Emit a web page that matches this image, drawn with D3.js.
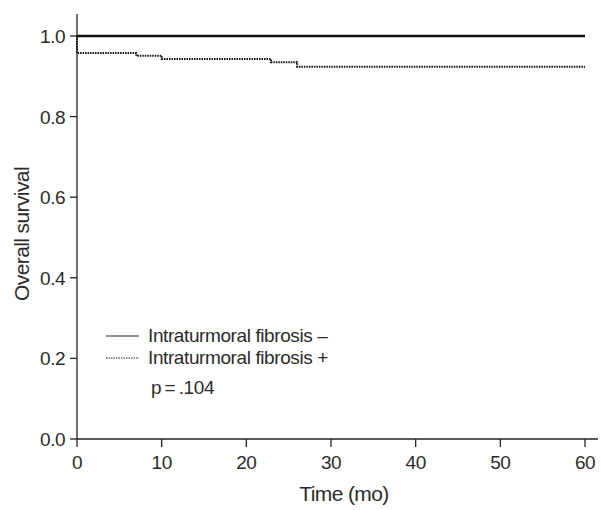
<!DOCTYPE html>
<html lang="en">
<head>
  <meta charset="UTF-8">
  <title>Overall survival</title>
  <script src="https://d3js.org/d3.v7.min.js"></script>
  <style>
    body { margin: 0; background: #fff; font-family: "Liberation Sans", Arial, sans-serif; }
    svg text { fill: #2b2b2b; }
  </style>
</head>
<body>
  <svg width="601" height="510"></svg>
  <script>
    // survival steps: [time, survival]
    const negSteps = [[0, 1.0], [60, 1.0]];
    const posSteps = [[0, 1.0], [0, 0.958], [7, 0.951], [10, 0.943], [22.9, 0.935], [26, 0.924], [60, 0.924]];
    const xTicks = [0, 10, 20, 30, 40, 50, 60];
    const yTicks = [0, 0.2, 0.4, 0.6, 0.8, 1.0];
    const legendLabels = ["Intraturmoral fibrosis \u2013", "Intraturmoral fibrosis +"];
    const pLabel = "p\u2009=\u2009.104";

    const svg = d3.select("svg");
    const x = d3.scaleLinear().domain([0, 60]).range([77, 585]);
    const y = d3.scaleLinear().domain([0, 1]).range([439, 36]);

    // axes
    svg.append("line").attr("x1", 77).attr("x2", 77).attr("y1", 14).attr("y2", 439)
      .attr("stroke", "#222").attr("stroke-width", 1.3);
    svg.append("line").attr("x1", 77).attr("x2", 598).attr("y1", 439).attr("y2", 439)
      .attr("stroke", "#222").attr("stroke-width", 1.3);

    svg.selectAll(".xt").data(xTicks).enter().append("line")
      .attr("x1", d => x(d)).attr("x2", d => x(d)).attr("y1", 439).attr("y2", 447)
      .attr("stroke", "#222").attr("stroke-width", 1.3);
    svg.selectAll(".xl").data(xTicks).enter().append("text")
      .attr("x", d => x(d)).attr("y", 469).attr("text-anchor", "middle")
      .attr("font-size", "19px").attr("letter-spacing", "-0.5px").text(d => d);

    svg.selectAll(".yt").data(yTicks).enter().append("line")
      .attr("x1", 70).attr("x2", 77).attr("y1", d => y(d)).attr("y2", d => y(d))
      .attr("stroke", "#222").attr("stroke-width", 1.3);
    svg.selectAll(".yl").data(yTicks).enter().append("text")
      .attr("x", 65).attr("y", d => y(d) + 7).attr("text-anchor", "end")
      .attr("font-size", "19px").attr("letter-spacing", "-0.5px").text(d => d.toFixed(1));

    svg.append("text").attr("x", 344).attr("y", 501).attr("text-anchor", "middle")
      .attr("font-size", "21px").attr("letter-spacing", "-0.6px").text("Time (mo)");
    svg.append("text").attr("transform", "translate(29,234) rotate(-90)")
      .attr("text-anchor", "middle").attr("font-size", "21px").attr("letter-spacing", "-0.6px")
      .text("Overall survival");

    // curves
    const line = d3.line().x(d => x(d[0])).y(d => y(d[1])).curve(d3.curveStepAfter);
    svg.append("path").attr("d", line(negSteps)).attr("fill", "none")
      .attr("stroke", "#111").attr("stroke-width", 2.4);
    svg.append("path").attr("d", line(posSteps)).attr("fill", "none")
      .attr("stroke", "#111").attr("stroke-width", 2).attr("stroke-dasharray", "1.5,1");

    // legend
    svg.append("line").attr("x1", 106).attr("x2", 139).attr("y1", 336).attr("y2", 336)
      .attr("stroke", "#222").attr("stroke-width", 1.2);
    svg.append("line").attr("x1", 106).attr("x2", 139).attr("y1", 358).attr("y2", 358)
      .attr("stroke", "#222").attr("stroke-width", 1.2).attr("stroke-dasharray", "1.5,1");
    svg.selectAll(".lg").data(legendLabels).enter().append("text")
      .attr("x", 148).attr("y", (d, i) => 342 + i * 22)
      .attr("font-size", "19px").attr("letter-spacing", "-0.4px").text(d => d);
    svg.append("text").attr("x", 151).attr("y", 394).attr("font-size", "19px")
      .attr("letter-spacing", "-0.4px").text(pLabel);
  </script>
</body>
</html>
